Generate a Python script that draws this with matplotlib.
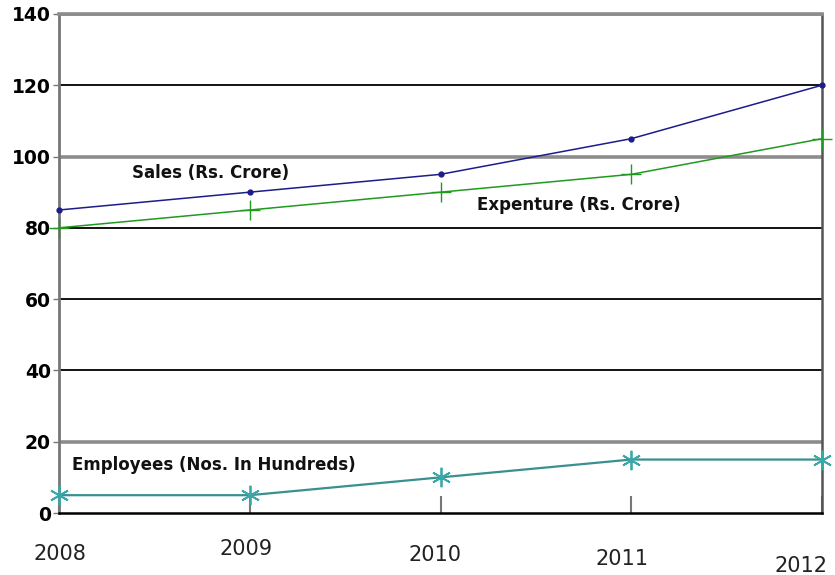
import numpy as np
import matplotlib.pyplot as plt
from matplotlib.transforms import ScaledTranslation

# data
years = [2008, 2009, 2010, 2011, 2012]
sales = [85, 90, 95, 105, 120]
expenditure = [80, 85, 90, 95, 105]
employees = [5, 5, 10, 15, 15]
yticks = [0, 20, 40, 60, 80, 100, 120, 140]

fig = plt.figure(figsize=(8.35, 5.75), dpi=100, facecolor='w')
ax = fig.add_axes([0.0707, 0.1078, 0.9137, 0.868])

# gridlines, some grey and thick, some black and thin
for v in yticks[1:]:
    if v in (20, 100, 140):
        ax.axhline(v, color='#8c8c8c', lw=2.6, zorder=1)
    else:
        ax.axhline(v, color='black', lw=1.3, zorder=1)

ax.plot(years, sales, color='#1c1c8a', lw=1.1, marker='o', ms=3.5, zorder=3)
ax.plot(years, expenditure, color='#1f9a1f', lw=1.1, marker='+', ms=14, mew=1.0, zorder=3)
ax.plot(years, employees, color='#3a9090', lw=1.6, marker=(6, 2, 0), ms=14, mew=1.3,
        mec='#3aa8a8', zorder=3)

lbl = dict(fontsize=12, fontweight='bold', family='DejaVu Sans', color='#111111')
ax.text(2008.38, 95.4, 'Sales (Rs. Crore)', va='center', **lbl)
ax.text(2010.19, 86.4, 'Expenture (Rs. Crore)', va='center', **lbl)
ax.text(2008.07, 13.6, 'Employees (Nos. In Hundreds)', va='center', **lbl)

ax.set_xlim(2008, 2012)
ax.set_ylim(0, 140)
ax.set_yticks(yticks)
ax.set_yticklabels([str(v) for v in yticks], fontsize=13.5, fontweight='bold',
                   family='DejaVu Sans')
ax.set_xticks(years)
ax.set_xticklabels([str(y) for y in years], fontsize=15, family='DejaVu Sans', color='#222222')
ax.tick_params(axis='y', length=4, width=1, color='#777777', pad=2)
ax.tick_params(axis='x', direction='in', length=12, width=1.5, color='#777777', pad=22)

# x labels sit at slightly uneven spots in the original
offsets = [(1, 0), (-4, 5), (-6, -1), (-9, -5), (-21, -12)]
for lab, (dx, dy) in zip(ax.get_xticklabels(), offsets):
    lab.set_transform(lab.get_transform() + ScaledTranslation(dx / 100, dy / 100, fig.dpi_scale_trans))

ax.spines['left'].set_color('#777777')
ax.spines['left'].set_linewidth(2)
ax.spines['right'].set_color('#555555')
ax.spines['right'].set_linewidth(1.8)
ax.spines['top'].set_color('#8c8c8c')
ax.spines['top'].set_linewidth(2.6)
ax.spines['bottom'].set_color('black')
ax.spines['bottom'].set_linewidth(1.8)

for a in ax.lines[-3:]:
    a.set_clip_on(False)

fig.savefig('out.png', dpi=100)
